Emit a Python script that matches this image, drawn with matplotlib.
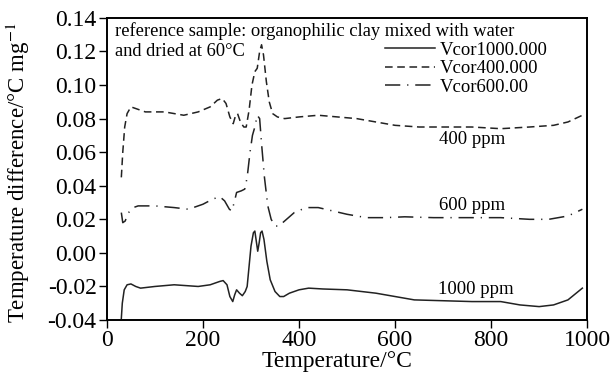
import numpy as np
import matplotlib.pyplot as plt

plt.rcParams['font.family'] = ['Liberation Serif', 'DejaVu Serif']
plt.rcParams['mathtext.fontset'] = 'stix'

# 400 ppm (dashed)
t_400 = [30, 33, 37, 42, 50, 60, 80, 120, 160, 190, 215, 230, 240, 248, 256, 263, 268, 272,
         278, 285, 290, 296, 302, 308, 313, 318, 322, 326, 332, 338, 345, 355, 370, 400, 440,
         480, 520, 560, 600, 650, 700, 760, 820, 880, 930, 960, 990]
v_400 = [0.045, 0.060, 0.075, 0.083, 0.087, 0.086, 0.084, 0.084, 0.082, 0.084, 0.087, 0.091,
         0.092, 0.089, 0.081, 0.077, 0.082, 0.083, 0.078, 0.075, 0.075, 0.085, 0.100, 0.108,
         0.110, 0.120, 0.124, 0.118, 0.102, 0.090, 0.083, 0.081, 0.080, 0.081, 0.082, 0.081,
         0.080, 0.078, 0.076, 0.075, 0.075, 0.075, 0.074, 0.075, 0.076, 0.078, 0.082]

# 600 ppm (dash-dot)
t_600 = [30, 33, 38, 45, 55, 65, 100, 140, 170, 200, 220, 235, 245, 255, 260, 265, 270, 280,
         287, 292, 298, 303, 308, 313, 318, 322, 328, 335, 342, 350, 358, 370, 390, 415, 440,
         470, 500, 540, 580, 620, 680, 750, 820, 880, 920, 960, 990]
v_600 = [0.024, 0.018, 0.019, 0.024, 0.027, 0.028, 0.028, 0.027, 0.026, 0.029, 0.032, 0.0335,
         0.031, 0.026, 0.025, 0.030, 0.036, 0.037, 0.038, 0.045, 0.060, 0.070, 0.075, 0.082,
         0.080, 0.065, 0.045, 0.028, 0.020, 0.016, 0.016, 0.019, 0.024, 0.027, 0.027, 0.025,
         0.023, 0.021, 0.021, 0.0215, 0.021, 0.021, 0.021, 0.020, 0.020, 0.022, 0.026]

# 1000 ppm (solid)
t_1000 = [30, 32, 36, 42, 50, 60, 70, 100, 140, 190, 215, 235, 242, 250, 256, 262, 266, 270,
          276, 282, 288, 292, 296, 300, 305, 308, 311, 314, 317, 320, 323, 327, 333, 340, 350,
          360, 368, 380, 400, 420, 450, 500, 560, 600, 640, 700, 760, 820, 860, 900, 930, 960, 990]
v_1000 = [-0.039, -0.030, -0.022, -0.019, -0.0185, -0.020, -0.021, -0.020, -0.019, -0.020,
          -0.019, -0.017, -0.0165, -0.019, -0.026, -0.029, -0.025, -0.022, -0.024, -0.0255,
          -0.023, -0.020, -0.008, 0.004, 0.012, 0.013, 0.007, 0.001, 0.006, 0.012, 0.013, 0.008,
          -0.005, -0.016, -0.023, -0.026, -0.026, -0.024, -0.022, -0.021, -0.0215, -0.022,
          -0.024, -0.026, -0.028, -0.0285, -0.029, -0.029, -0.031, -0.032, -0.031, -0.028, -0.021]

yticks = [-0.04, -0.02, 0.00, 0.02, 0.04, 0.06, 0.08, 0.10, 0.12, 0.14]
ytick_labels = ['-0.04', '-0.02', '0.00', '0.02', '0.04', '0.06', '0.08', '0.10', '0.12', '0.14']

fig = plt.figure(figsize=(6.11, 3.73), dpi=100)
ax = fig.add_axes([0.175, 0.142, 0.786, 0.81])
lc = '#222222'
ax.plot(t_1000, v_1000, color=lc, lw=1.1, ls='-', label='Vcor1000.000')
ax.plot(t_400, v_400, color=lc, lw=1.1, ls=(0, (5, 3)), label='Vcor400.000')
ax.plot(t_600, v_600, color=lc, lw=1.1, ls=(0, (10, 4.5, 0.8, 4.5)), label='Vcor600.00')

ax.set_xlim(0, 1000)
ax.set_ylim(-0.04, 0.14)
ax.set_xticks(np.arange(0, 1001, 200))
ax.set_yticks(yticks)
ax.set_yticklabels(ytick_labels)
ax.tick_params(direction='out', length=6, width=1.0, labelsize=17, pad=1.5)
for s in ax.spines.values():
    s.set_linewidth(1.4)

ax.set_xlabel('Temperature/\u00b0C', fontsize=17)
ax.xaxis.set_label_coords(0.48, -0.103)
ax.set_ylabel('Temperature difference/\u00b0C mg$^{-1}$', fontsize=16.5)
ax.yaxis.set_label_coords(-0.155, 0.487)

ax.text(0.017, 0.956, 'reference sample: organophilic clay mixed with water',
        transform=ax.transAxes, ha='left', va='center', fontsize=13.3)
ax.text(0.017, 0.889, 'and dried at 60\u00b0C',
        transform=ax.transAxes, ha='left', va='center', fontsize=13.3)
ax.text(761, 0.0673, '400 ppm', fontsize=13.5, ha='center', va='center')
ax.text(761, 0.0285, '600 ppm', fontsize=13.5, ha='center', va='center')
ax.text(769, -0.0221, '1000 ppm', fontsize=13.5, ha='center', va='center')

ax.legend(loc='upper left', bbox_to_anchor=(0.579, 0.922), frameon=False, fontsize=13.5,
          handlelength=2.67, labelspacing=0.08, handletextpad=0.27, borderpad=0,
          borderaxespad=0)

fig.savefig('out.png', dpi=100)
